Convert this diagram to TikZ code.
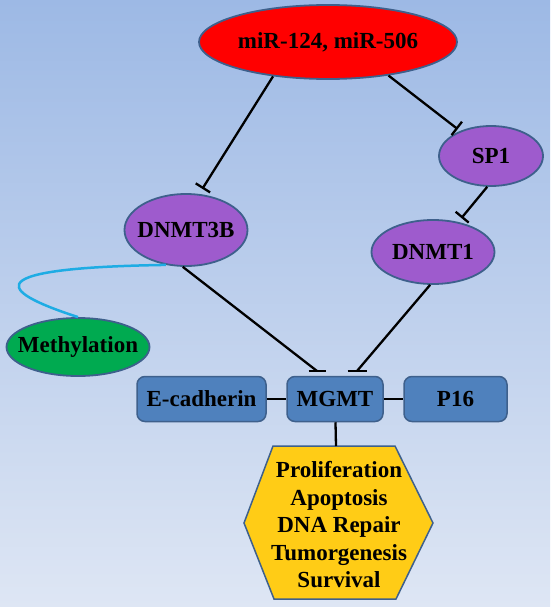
\documentclass[tikz,border=0pt]{standalone}
\usepackage{fontspec}
\setmainfont{Liberation Serif}
\usetikzlibrary{shapes.geometric,arrows.meta}

\definecolor{bgtop}{RGB}{157,185,229}
\definecolor{bgbot}{RGB}{222,230,244}
\definecolor{rim}{RGB}{62,96,140}
\definecolor{mirred}{RGB}{255,0,0}
\definecolor{dnmtpurple}{RGB}{158,91,205}
\definecolor{methgreen}{RGB}{0,170,80}
\definecolor{boxblue}{RGB}{79,129,189}
\definecolor{hexgold}{RGB}{255,204,22}
\definecolor{linkcyan}{RGB}{30,172,228}

\begin{document}
\begin{tikzpicture}[x=1pt,y=-1pt,
        every node/.style={font=\bfseries\fontsize{23}{27.5}\selectfont},
        oval/.style={ellipse,draw=rim,line width=1.8pt,inner sep=-12pt},
        gene/.style={rectangle,rounded corners=8pt,draw=rim,line width=1.5pt,fill=boxblue,minimum height=45pt,inner sep=0pt},
        link/.style={line width=2.3pt},
        inhibit/.style={line width=2.3pt,-{Bar[width=17pt]}}]
        \useasboundingbox (0,0) rectangle (550,607);
        \shade[top color=bgtop,bottom color=bgbot] (0,0) rectangle (550,607);

        % regulators
        \node[oval,fill=mirred,minimum width=258pt,minimum height=74pt] (mir) at (328,42) {miR-124, miR-506};
        \node[oval,fill=dnmtpurple,minimum width=123pt,minimum height=72pt] (dn3b) at (186,230) {DNMT3B};
        \node[oval,fill=dnmtpurple,minimum width=104pt,minimum height=60pt] (sp1) at (491,156) {SP1};
        \node[oval,fill=dnmtpurple,minimum width=123pt,minimum height=64pt] (dn1) at (433,252) {DNMT1};
        \node[oval,fill=methgreen,minimum width=143pt,minimum height=58pt] (meth) at (78,347) {Methylation};

        % genes
        \node[gene,minimum width=129pt] (ecad) at (201.5,399) {E-cadherin};
        \node[gene,minimum width=96pt] (mgmt) at (335,399) {MGMT};
        \node[gene,minimum width=103pt] (p16) at (455.5,399) {P16};

        % outcomes
        \draw[draw=rim,line width=1.5pt,fill=hexgold] (273,446) -- (395,446) -- (433,523) -- (396,599) -- (274,599) -- (244,523) -- cycle;
        \coordinate (hextop) at (336,446);
        \node[align=center] (eff) at (339,525) {Proliferation\\Apoptosis\\DNA Repair\\Tumorgenesis\\Survival};

        \coordinate (t1) at (317,371);
        \coordinate (t2) at (357,371);

        \draw[inhibit,shorten >=6pt] (mir.212) -- (dn3b.70);
        \draw[inhibit,shorten >=3pt] (mir.331) -- (sp1.141);
        \draw[inhibit,shorten >=5pt] (sp1.263) -- (dn1.50);
        \draw[link] (dn3b.265) -- (t1);
        \draw[link] ([xshift=-8.5pt]t1) -- ([xshift=8.5pt]t1);
        \draw[link] (dn1.265) -- (t2);
        \draw[link] ([xshift=-9.5pt]t2) -- ([xshift=9.5pt]t2);
        \draw[linkcyan,line width=2.5pt] (dn3b.240) .. controls (-40,268) and (10,295) .. (meth.north);
        \draw[link] (ecad) -- (mgmt);
        \draw[link] (mgmt) -- (p16);
        \draw[link] (mgmt) -- (hextop);
\end{tikzpicture}
\end{document}
